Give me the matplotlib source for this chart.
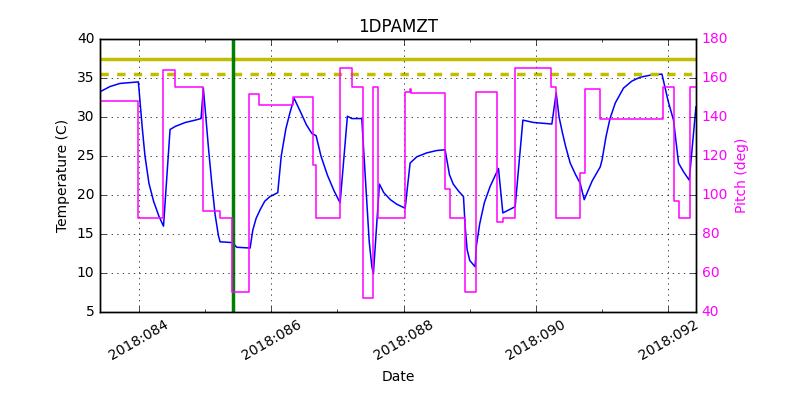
import numpy as np
import matplotlib
matplotlib.use("Agg")
import matplotlib.pyplot as plt
from matplotlib.ticker import FixedLocator, FuncFormatter

plt.style.use("classic")

# temperature (1DPAMZT), x = day of year 2018
temp_days = [83.425, 83.56, 83.71, 83.99, 84.05, 84.09, 84.15, 84.22, 84.30, 84.37,
             84.469, 84.55, 84.70, 84.85, 84.938, 84.972,
             85.00, 85.05, 85.10, 85.15, 85.20, 85.225, 85.411, 85.478, 85.679,
             85.72, 85.77, 85.83, 85.90, 85.98, 86.097,
             86.15, 86.22, 86.28, 86.344, 86.45, 86.53, 86.612, 86.677,
             86.75, 86.85, 86.95, 87.04, 87.15, 87.217, 87.368,
             87.38, 87.43, 87.48, 87.52, 87.543, 87.634,
             87.70, 87.80, 87.90, 88.023, 88.098, 88.20, 88.35, 88.50, 88.627,
             88.693, 88.75, 88.83, 88.905, 88.93, 88.96, 89.00, 89.081,
             89.10, 89.15, 89.22, 89.308, 89.434, 89.50, 89.686,
             89.803, 89.963, 90.241, 90.306, 90.35, 90.40, 90.45, 90.518, 90.60, 90.669, 90.73,
             90.85, 90.972, 91.00, 91.06, 91.12, 91.20, 91.324, 91.45, 91.576, 91.75, 91.905,
             92.00, 92.08, 92.156, 92.23, 92.318, 92.419]
temp_vals = [33.3, 33.9, 34.3, 34.5, 28.5, 25.0, 21.5, 19.2, 17.3, 16.0,
             28.4, 28.8, 29.3, 29.6, 29.8, 33.7,
             31.0, 26.0, 21.5, 17.5, 14.8, 14.0, 13.9, 13.3, 13.2,
             15.5, 17.0, 18.1, 19.2, 19.8, 20.3,
             25.0, 28.5, 30.5, 32.4, 30.5, 29.0, 27.9, 27.6,
             25.0, 22.5, 20.5, 19.0, 30.1, 29.8, 29.8,
             28.0, 21.0, 14.0, 10.8, 9.9, 21.4,
             20.3, 19.4, 18.8, 18.3, 24.1, 24.9, 25.4, 25.7, 25.8,
             22.6, 21.4, 20.5, 19.8, 16.0, 13.0, 11.6, 10.8,
             13.5, 16.3, 19.0, 21.1, 23.4, 17.7, 18.5,
             29.6, 29.3, 29.1, 33.1, 30.0, 28.0, 26.2, 24.1, 22.6, 21.5, 19.4,
             21.8, 23.6, 24.5, 27.5, 29.8, 31.8, 33.7, 34.6, 35.1, 35.4, 35.5,
             32.0, 29.6, 24.1, 23.0, 21.9, 31.3]

# pitch, step changes
pitch_days = [83.425, 83.989, 84.367, 84.544, 84.972, 85.225, 85.411, 85.668, 85.819,
              86.329, 86.627, 86.677, 87.04, 87.217, 87.383, 87.543, 87.619,
              88.023, 88.09, 88.11, 88.627, 88.702, 88.93, 89.092, 89.418, 89.505,
              89.686, 90.231, 90.302, 90.669, 90.745, 90.972, 91.92, 92.091,
              92.156, 92.322, 92.42]
pitch_vals = [148.4, 88.0, 164.1, 155.2, 91.8, 88.0, 50.4, 151.6, 146.2,
              150.4, 115.4, 88.0, 165.3, 155.2, 47.0, 155.2, 88.0,
              153.0, 154.5, 152.5, 102.9, 88.0, 50.4, 153.0, 86.0, 88.0,
              164.9, 155.2, 88.0, 111.4, 154.4, 138.8, 155.6, 97.1,
              88.0, 155.6, 155.6]

planning_limit = 37.5
caution_limit = 35.5
event_day = 85.42

fig = plt.figure(figsize=(8, 4), dpi=100, facecolor="white")
ax1 = fig.add_subplot(111)
fig.subplots_adjust(left=0.125, right=0.87, top=0.9025, bottom=0.22)

ax1.plot(temp_days, temp_vals, color="b", lw=1.1)
ax1.axhline(planning_limit, color="y", lw=2.5)
ax1.axhline(caution_limit, color="y", lw=2.5, ls="--")
ax1.axvline(event_day, color="g", lw=2.5)
ax1.set_ylim(5, 40)
ax1.set_xlim(83.41, 92.42)
ax1.set_ylabel("Temperature (C)", fontsize=10)
ax1.set_xlabel("Date", fontsize=10)
ax1.set_title("1DPAMZT", fontsize=12)
ax1.grid(True)
ax1.tick_params(labelsize=10)

ax1.xaxis.set_major_locator(FixedLocator([84, 86, 88, 90, 92]))
ax1.xaxis.set_minor_locator(FixedLocator([85, 87, 89, 91]))
ax1.xaxis.set_major_formatter(FuncFormatter(lambda d, p: "2018:%03d" % int(round(d))))
plt.setp(ax1.get_xticklabels(), rotation=30)

ax2 = ax1.twinx()
ax2.plot(pitch_days, pitch_vals, color="magenta", lw=1.1, drawstyle="steps-post")
ax2.set_ylim(40, 180)
ax2.set_xlim(83.41, 92.42)
ax2.set_ylabel("Pitch (deg)", color="magenta", fontsize=10)
ax2.tick_params(labelsize=10)
for t in ax2.get_yticklabels():
    t.set_color("magenta")

fig.savefig("out.png", dpi=100, facecolor="white")
